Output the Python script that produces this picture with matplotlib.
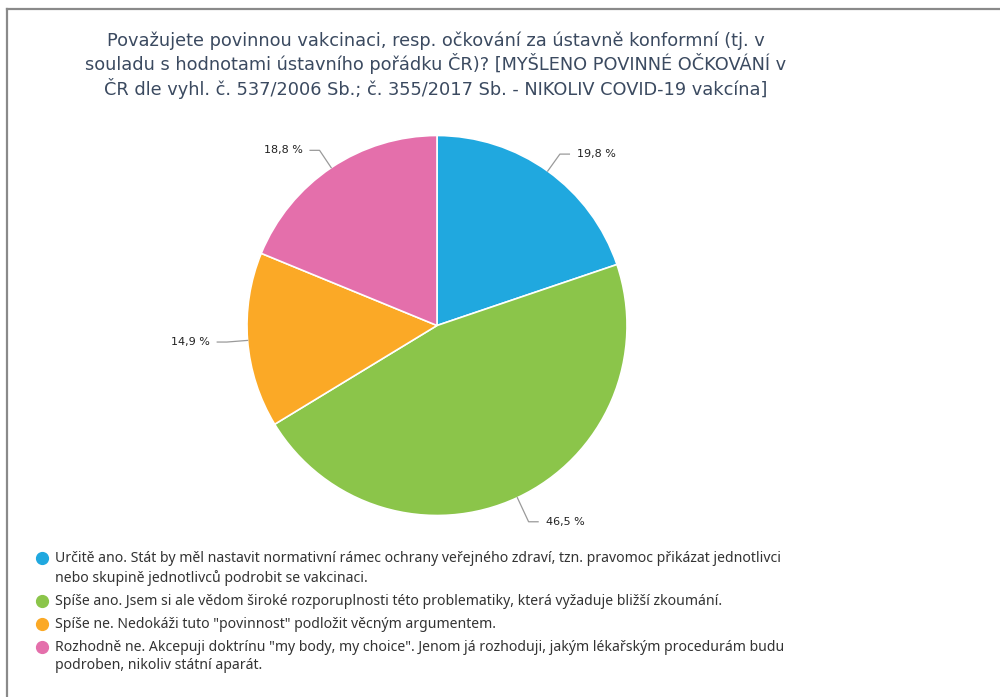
import numpy as np
import matplotlib
matplotlib.use("Agg")
import matplotlib.pyplot as plt
from matplotlib.lines import Line2D

# ---- data ----
title = ("Považujete povinnou vakcinaci, resp. očkování za ústavně konformní (tj. v\n"
         "souladu s hodnotami ústavního pořádku ČR)? [MYŠLENO POVINNÉ OČKOVÁNÍ v\n"
         "ČR dle vyhl. č. 537/2006 Sb.; č. 355/2017 Sb. - NIKOLIV COVID-19 vakcína]")
answers = [
    "Určitě ano. Stát by měl nastavit normativní rámec ochrany veřejného zdraví, tzn. pravomoc přikázat jednotlivci\nnebo skupině jednotlivců podrobit se vakcinaci.",
    "Spíše ano. Jsem si ale vědom široké rozporuplnosti této problematiky, která vyžaduje bližší zkoumání.",
    "Spíše ne. Nedokáži tuto \"povinnost\" podložit věcným argumentem.",
    "Rozhodně ne. Akcepuji doktrínu \"my body, my choice\". Jenom já rozhoduji, jakým lékařským procedurám budu\npodroben, nikoliv státní aparát.",
]
shares = [19.8, 46.5, 14.9, 18.8]
colors = ["#20a8df", "#8bc54a", "#fba926", "#e46fab"]

W, H = 1000, 697
fig = plt.figure(figsize=(W / 100, H / 100), dpi=100)
fig.patch.set_facecolor("white")

# frame lines (top and left visible)
fig.add_artist(Line2D([7 / W, 7 / W], [0, 1 - 9 / H], color="#8a8a8a", lw=1.6))
fig.add_artist(Line2D([7 / W, 1], [1 - 9 / H, 1 - 9 / H], color="#8a8a8a", lw=1.6))

# pie axes: centre (437, 325.5), radius 190 px
cx, cy, r = 437, 325.5, 190
ax = fig.add_axes([(cx - r) / W, (H - cy - r) / H, 2 * r / W, 2 * r / H])
wedges, _ = ax.pie(shares, colors=colors, startangle=90, counterclock=False,
                   radius=1, wedgeprops=dict(edgecolor="white", linewidth=1.2))
ax.set_xlim(-1, 1)
ax.set_ylim(-1, 1)
ax.set_aspect("equal")
ax.axis("off")

# labels with leader lines
for w, v in zip(wedges, shares):
    ang = np.deg2rad((w.theta1 + w.theta2) / 2)
    x0, y0 = np.cos(ang), np.sin(ang)
    rr = 1.14 if y0 < -0.5 else 1.11
    x1, y1 = rr * x0, rr * y0
    sgn = 1 if x0 >= 0 else -1
    x2 = x1 + sgn * 0.05
    ax.plot([x0, x1, x2], [y0, y1, y1], color="#9a9a9a", lw=0.9, clip_on=False)
    ax.text(x2 + sgn * 0.04, y1, f"{v:.1f} %".replace(".", ","), fontsize=8,
            ha="left" if sgn > 0 else "right", va="center", color="#222222")

fig.text(436 / W, 1 - 31 / H, title, ha="center", va="top", fontsize=12.8,
         color="#3b4a60", linespacing=1.22)

# legend drawn by hand so the dot sits on the first line of each entry
y = 558
for c, lab in zip(colors, answers):
    fig.add_artist(Line2D([42 / W], [1 - y / H], marker="o", markersize=8.5,
                          markerfacecolor=c, markeredgecolor=c, linestyle="none"))
    fig.text(55 / W, 1 - (y - 7) / H, lab, ha="left", va="top", family="Noto Sans",
             fontsize=10.1, color="#333333", linespacing=1.3)
    y += 20 * (lab.count("\n") + 1) + 3

fig.savefig("out.png", dpi=100)
